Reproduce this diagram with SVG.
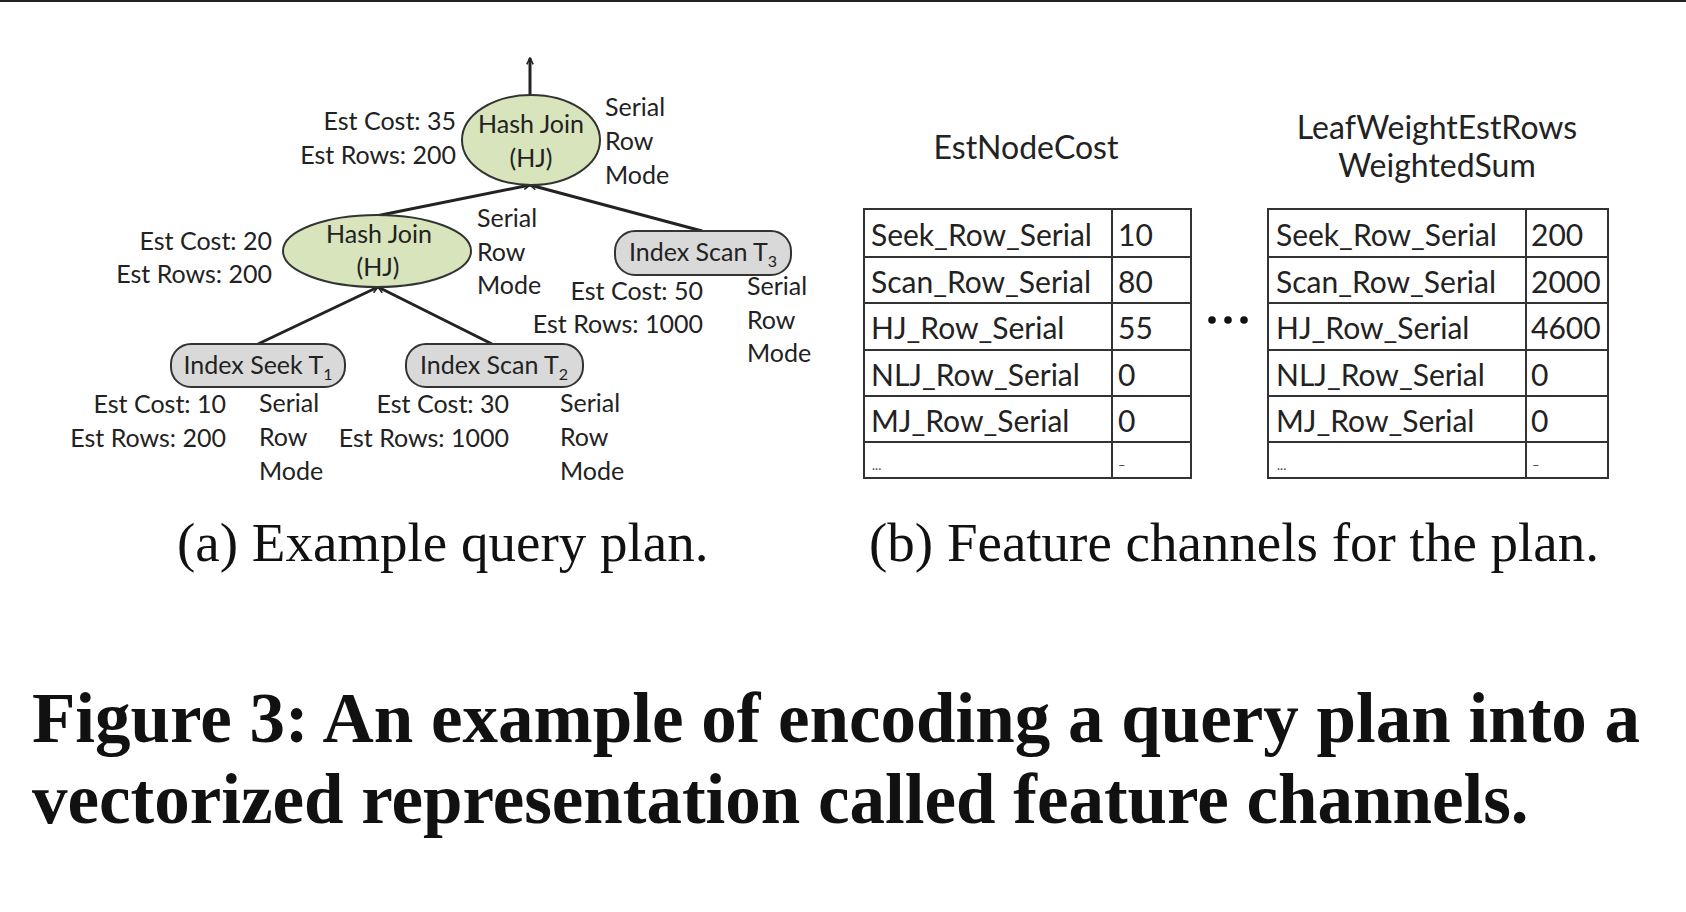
<svg xmlns="http://www.w3.org/2000/svg" width="1686" height="912" viewBox="0 0 1686 912">
  <style>
    .lbl { font-family: Lato, "Open Sans", sans-serif; font-size: 25px; fill: #222; }
    .end { text-anchor: end; }
    .mid { text-anchor: middle; }
    .hj { fill: #d8e4bc; stroke: #333; stroke-width: 2; }
    .op { fill: #d9d9d9; stroke: #333; stroke-width: 2; }
    .edge { stroke: #222; stroke-width: 3; fill: none; }
    .grid { stroke: #333; stroke-width: 2; fill: none; }
    .cell { font-family: Lato, "Open Sans", sans-serif; font-size: 30px; fill: #222; }
    .title { font-family: Lato, "Open Sans", sans-serif; font-size: 32px; fill: #222; text-anchor: middle; }
    .tiny { font-family: Lato, sans-serif; font-size: 13px; fill: #444; }
    .sub { font-family: "Liberation Serif", serif; font-size: 55px; fill: #111; }
    .cap { font-family: "Liberation Serif", serif; font-weight: bold; font-size: 71px; fill: #111; }
  </style>
  <defs>
    <marker id="arr" viewBox="0 0 10 10" refX="9" refY="5" markerWidth="8" markerHeight="8" markerUnits="userSpaceOnUse" orient="auto">
      <path d="M1,1 L9,5 L1,9" fill="none" stroke="#222" stroke-width="2"/>
    </marker>
  </defs>

  <rect x="0" y="0" width="1686" height="912" fill="#fff"/>
  <rect x="0" y="0" width="1686" height="2" fill="#222"/>

  <!-- plan tree edges -->
  <g id="connectors">
    <line class="edge" x1="530" y1="95" x2="530" y2="58" marker-end="url(#arr)"/>
    <line class="edge" x1="376" y1="216" x2="530" y2="185" marker-end="url(#arr)"/>
    <line class="edge" x1="702" y1="231" x2="530" y2="185" marker-end="url(#arr)"/>
    <line class="edge" x1="258" y1="344" x2="378" y2="287" marker-end="url(#arr)"/>
    <line class="edge" x1="492" y1="344" x2="378" y2="287" marker-end="url(#arr)"/>
  </g>

  <!-- root hash join -->
  <g id="hj-root">
    <ellipse class="hj" cx="531" cy="140" rx="69" ry="45"/>
    <text class="lbl mid" x="531" y="133">Hash Join</text>
    <text class="lbl mid" x="531" y="167">(HJ)</text>
    <text class="lbl end" x="456" y="130">Est Cost: 35</text>
    <text class="lbl end" x="456" y="164">Est Rows: 200</text>
    <text class="lbl" x="605" y="116">Serial</text>
    <text class="lbl" x="605" y="150">Row</text>
    <text class="lbl" x="605" y="184">Mode</text>
  </g>

  <!-- inner hash join -->
  <g id="hj-inner">
    <ellipse class="hj" cx="377" cy="251" rx="94" ry="36"/>
    <text class="lbl mid" x="379" y="243">Hash Join</text>
    <text class="lbl mid" x="378" y="276">(HJ)</text>
    <text class="lbl end" x="272" y="250">Est Cost: 20</text>
    <text class="lbl end" x="272" y="283">Est Rows: 200</text>
    <text class="lbl" x="477" y="227">Serial</text>
    <text class="lbl" x="477" y="261">Row</text>
    <text class="lbl" x="477" y="294">Mode</text>
  </g>

  <!-- index scan T3 -->
  <g id="scan-t3">
    <rect class="op" x="615" y="231" width="176" height="44" rx="20"/>
    <text class="lbl mid" x="703" y="261">Index Scan T<tspan font-size="16" dy="6">3</tspan></text>
    <text class="lbl end" x="703" y="300">Est Cost: 50</text>
    <text class="lbl end" x="703" y="333">Est Rows: 1000</text>
    <text class="lbl" x="747" y="295">Serial</text>
    <text class="lbl" x="747" y="329">Row</text>
    <text class="lbl" x="747" y="362">Mode</text>
  </g>

  <!-- index seek T1 -->
  <g id="seek-t1">
    <rect class="op" x="171" y="344" width="174" height="43" rx="20"/>
    <text class="lbl mid" x="258" y="374">Index Seek T<tspan font-size="16" dy="6">1</tspan></text>
    <text class="lbl end" x="226" y="413">Est Cost: 10</text>
    <text class="lbl end" x="226" y="447">Est Rows: 200</text>
    <text class="lbl" x="259" y="412">Serial</text>
    <text class="lbl" x="259" y="446">Row</text>
    <text class="lbl" x="259" y="480">Mode</text>
  </g>

  <!-- index scan T2 -->
  <g id="scan-t2">
    <rect class="op" x="406" y="344" width="177" height="43" rx="20"/>
    <text class="lbl mid" x="494" y="374">Index Scan T<tspan font-size="16" dy="6">2</tspan></text>
    <text class="lbl end" x="509" y="413">Est Cost: 30</text>
    <text class="lbl end" x="509" y="447">Est Rows: 1000</text>
    <text class="lbl" x="560" y="412">Serial</text>
    <text class="lbl" x="560" y="446">Row</text>
    <text class="lbl" x="560" y="480">Mode</text>
  </g>

  <!-- feature channel: EstNodeCost -->
  <g id="channel-cost">
    <text class="title" x="1026" y="159">EstNodeCost</text>
    <rect class="grid" x="864" y="209" width="327" height="269"/>
    <path class="grid" d="M1112,209 V478 M864,257 H1191 M864,303 H1191 M864,350 H1191 M864,396 H1191 M864,442 H1191"/>
    <text class="cell" x="871" y="246">Seek_Row_Serial</text>
    <text class="cell" x="871" y="293">Scan_Row_Serial</text>
    <text class="cell" x="871" y="339">HJ_Row_Serial</text>
    <text class="cell" x="871" y="386">NLJ_Row_Serial</text>
    <text class="cell" x="871" y="432">MJ_Row_Serial</text>
    <text class="tiny" x="872" y="470">...</text>
    <text class="cell" x="1118" y="246">10</text>
    <text class="cell" x="1118" y="293">80</text>
    <text class="cell" x="1118" y="339">55</text>
    <text class="cell" x="1118" y="386">0</text>
    <text class="cell" x="1118" y="432">0</text>
    <text class="tiny" x="1118" y="470">–</text>
  </g>

  <!-- ellipsis between channels -->
  <g id="more-channels" fill="#111">
    <circle cx="1212" cy="320" r="3.8"/>
    <circle cx="1228" cy="320" r="3.8"/>
    <circle cx="1244" cy="320" r="3.8"/>
  </g>

  <!-- feature channel: LeafWeightEstRowsWeightedSum -->
  <g id="channel-rows">
    <text class="title" x="1437" y="139">LeafWeightEstRows</text>
    <text class="title" x="1437" y="177">WeightedSum</text>
    <rect class="grid" x="1268" y="209" width="340" height="269"/>
    <path class="grid" d="M1526,209 V478 M1268,257 H1608 M1268,303 H1608 M1268,350 H1608 M1268,396 H1608 M1268,442 H1608"/>
    <text class="cell" x="1276" y="246">Seek_Row_Serial</text>
    <text class="cell" x="1276" y="293">Scan_Row_Serial</text>
    <text class="cell" x="1276" y="339">HJ_Row_Serial</text>
    <text class="cell" x="1276" y="386">NLJ_Row_Serial</text>
    <text class="cell" x="1276" y="432">MJ_Row_Serial</text>
    <text class="tiny" x="1277" y="470">...</text>
    <text class="cell" x="1531" y="246">200</text>
    <text class="cell" x="1531" y="293">2000</text>
    <text class="cell" x="1531" y="339">4600</text>
    <text class="cell" x="1531" y="386">0</text>
    <text class="cell" x="1531" y="432">0</text>
    <text class="tiny" x="1532" y="470">–</text>
  </g>

  <!-- captions -->
  <g id="captions">
    <text class="sub" x="177" y="561">(a) Example query plan.</text>
    <text class="sub" x="869" y="561">(b) Feature channels for the plan.</text>
    <text class="cap" x="32" y="742">Figure 3: An example of encoding a query plan into a</text>
    <text class="cap" x="32" y="823">vectorized representation called feature channels.</text>
  </g>
</svg>
